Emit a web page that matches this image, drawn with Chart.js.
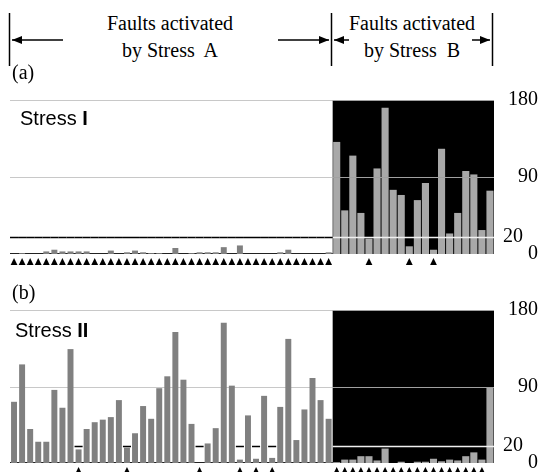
<!DOCTYPE html>
<html>
<head>
<meta charset="utf-8">
<script src="https://cdn.jsdelivr.net/npm/chart.js@4.4.1/dist/chart.umd.min.js"></script>
<style>
html, body { margin: 0; padding: 0; background: #fff; overflow: hidden; width: 538px; height: 472px; }
#page { position: relative; width: 538px; height: 472px; overflow: hidden; }
.serif { position: absolute; font-family: "Liberation Serif", "Times New Roman", serif; font-size: 20px; line-height: 1; color: #000; white-space: nowrap; z-index: 2; }
.sans { position: absolute; font-family: "Liberation Sans", Arial, sans-serif; font-size: 20px; line-height: 1; color: #000; white-space: nowrap; z-index: 2; }
canvas { position: absolute; left: 0; z-index: 1; }
svg { position: absolute; left: 0; top: 0; z-index: 2; }
</style>
</head>
<body>
<div id="page">
  <svg width="538" height="80">
    <defs>
      <marker id="head" viewBox="0 0 10 8" refX="10" refY="4" markerWidth="10" markerHeight="8" markerUnits="userSpaceOnUse" orient="auto">
        <path d="M0,0 L10,4 L0,8 z" fill="#000"/>
      </marker>
    </defs>
    <g stroke="#000" stroke-width="1.5">
      <line x1="9.5" y1="13" x2="9.5" y2="66"/>
      <line x1="331.5" y1="13" x2="331.5" y2="66"/>
      <line x1="492.5" y1="13" x2="492.5" y2="66"/>
      <line x1="63" y1="40" x2="12" y2="40" marker-end="url(#head)"/>
      <line x1="278" y1="40" x2="329" y2="40" marker-end="url(#head)"/>
      <line x1="349" y1="40" x2="334" y2="40" marker-end="url(#head)"/>
      <line x1="472" y1="40" x2="490" y2="40" marker-end="url(#head)"/>
    </g>
  </svg>
  <div class="serif" style="left:70px;width:200px;text-align:center;top:13px;">Faults activated</div>
  <div class="serif" style="left:70px;width:200px;text-align:center;top:40px;">by Stress&nbsp; A</div>
  <div class="serif" style="left:342px;width:140px;text-align:center;top:13px;">Faults activated</div>
  <div class="serif" style="left:342px;width:140px;text-align:center;top:40px;">by Stress&nbsp; B</div>
  <div class="serif" style="left:12px;top:62px;">(a)</div>
  <div class="serif" style="left:12px;top:282px;">(b)</div>
  <div class="sans" style="left:20px;top:108px;">Stress <b>I</b></div>
  <div class="sans" style="left:15px;top:320px;">Stress <b>II</b></div>
  <canvas id="chartA" width="538" height="195" style="top:80px;"></canvas>
  <canvas id="chartB" width="538" height="200" style="top:290px;"></canvas>
</div>
<script>
// fault numbers (x categories); the first 40 are activated by Stress A, the last 20 by Stress B
const faultIds = [
    '1','2','3','4','5','6','7','8','9','10','11','12','13','14','15','16','17','18','19','20',
    '21','22','23','24','25','26','27','28','29','30','31','32','33','34','35','36','37','38','39','40',
    '41','42','43','44','45','46','47','48','49','50','51','52','53','54','55','56','57','58','59','60'
];
const splitAt = 40;
const threshold = 20;
const yTicks = [0, 20, 90, 180];

// (a) Stress I
const stressI = [
    0, 1, 0, 0, 3, 5, 3, 3, 3, 3,
    0, 0, 4, 0, 2, 4, 2, 1, 1, 0,
    7, 0, 1, 2, 2, 2, 8, 0, 10, 0,
    0, 0, 0, 2, 5, 0, 0, 0, 0, 2,
    131, 51, 115, 48, 18, 100, 171, 75, 69, 9,
    63, 83, 5, 123, 24, 48, 97, 93, 28, 74
];

// (b) Stress II
const stressII = [
    72, 116, 40, 25, 25, 86, 65, 134, 16, 40,
    48, 51, 54, 74, 18, 35, 67, 52, 88, 102,
    154, 98, 46, 0, 23, 41, 165, 91, 4, 56,
    5, 79, 6, 66, 146, 27, 63, 100, 74, 52,
    1, 4, 4, 8, 8, 3, 17, 0, 1.5, 0,
    1.5, 1.5, 5, 2, 4, 3, 8, 12.5, 4, 89
];

// background, reference lines and triangle markers
const faultsPlugin = {
    id: 'faults',
    beforeDatasetsDraw(chart) {
        const ctx = chart.ctx;
        const area = chart.chartArea;
        const xs = chart.scales.x;
        const ys = chart.scales.y;
        const step = xs.getPixelForValue(1) - xs.getPixelForValue(0);
        const edge = xs.getPixelForValue(splitAt) - step / 2;

        ctx.save();
        ctx.fillStyle = '#000';
        ctx.fillRect(edge, area.top, area.right - edge, area.bottom - area.top);

        ctx.lineWidth = 1;
        ctx.strokeStyle = '#c8c8c8';
        [180, 90].forEach(v => {
            const y = Math.round(ys.getPixelForValue(v)) + 0.5;
            ctx.beginPath();
            ctx.moveTo(area.left, y);
            ctx.lineTo(edge, y);
            ctx.stroke();
        });
        ctx.strokeStyle = '#222';
        const y0 = Math.round(ys.getPixelForValue(0)) - 0.5;
        ctx.beginPath();
        ctx.moveTo(area.left, y0);
        ctx.lineTo(edge, y0);
        ctx.stroke();
        ctx.restore();
    },
    afterDatasetsDraw(chart) {
        const ctx = chart.ctx;
        const area = chart.chartArea;
        const xs = chart.scales.x;
        const ys = chart.scales.y;
        const values = chart.data.datasets[0].source;
        const step = xs.getPixelForValue(1) - xs.getPixelForValue(0);
        const edge = xs.getPixelForValue(splitAt) - step / 2;
        const y20 = Math.round(ys.getPixelForValue(threshold)) + 0.5;

        ctx.save();
        // right region lines, over the bars
        ctx.lineWidth = 1;
        ctx.strokeStyle = '#a0a0a0';
        [180, 90].forEach(v => {
            const y = Math.round(ys.getPixelForValue(v)) + 0.5;
            ctx.beginPath();
            ctx.moveTo(edge, y);
            ctx.lineTo(area.right, y);
            ctx.stroke();
        });
        ctx.strokeStyle = '#f0f0f0';
        ctx.lineWidth = 1.5;
        ctx.beginPath();
        ctx.moveTo(edge, y20);
        ctx.lineTo(area.right, y20);
        ctx.stroke();

        // left region: black mark at 20 over faults below the threshold
        ctx.strokeStyle = '#000';
        ctx.lineWidth = 1.5;
        values.forEach((v, i) => {
            if (i >= splitAt || v >= threshold) return;
            const cx = xs.getPixelForValue(i);
            ctx.beginPath();
            ctx.moveTo(cx - step / 2, y20);
            ctx.lineTo(cx + step / 2, y20);
            ctx.stroke();
        });

        // triangles under faults below the threshold
        ctx.fillStyle = '#000';
        values.forEach((v, i) => {
            if (v >= threshold) return;
            const cx = xs.getPixelForValue(i);
            const top = area.bottom + 4;
            ctx.beginPath();
            ctx.moveTo(cx, top);
            ctx.lineTo(cx + 3.4, top + 7);
            ctx.lineTo(cx - 3.4, top + 7);
            ctx.closePath();
            ctx.fill();
        });
        ctx.restore();
    }
};

function makeChart(id, values) {
    const left = values.map((v, i) => i < splitAt ? v : null);
    const right = values.map((v, i) => i >= splitAt ? v : null);
    return new Chart(document.getElementById(id), {
        type: 'bar',
        data: {
            labels: faultIds,
            datasets: [
                {
                    data: left,
                    source: values,
                    backgroundColor: '#808080',
                    barPercentage: 0.74,
                    categoryPercentage: 1,
                    grouped: false
                },
                {
                    data: right,
                    backgroundColor: '#a8a8a8',
                    barPercentage: 0.88,
                    categoryPercentage: 1,
                    grouped: false
                }
            ]
        },
        options: {
            responsive: false,
            animation: false,
            layout: { padding: { left: 10, right: 0, top: 20, bottom: id === 'chartA' ? 21 : 27 } },
            plugins: { legend: { display: false }, tooltip: { enabled: false } },
            scales: {
                x: { display: false },
                y: {
                    position: 'right',
                    min: 0,
                    max: 180,
                    afterBuildTicks: axis => { axis.ticks = yTicks.map(v => ({ value: v })); },
                    afterFit: axis => { axis.width = 44; },
                    grid: { display: false, drawTicks: false },
                    border: { display: false },
                    ticks: {
                        autoSkip: false,
                        crossAlign: 'far',
                        padding: 0,
                        color: '#000',
                        font: { family: '"Liberation Serif", "Times New Roman", serif', size: 20 },
                        callback: v => v === threshold ? '20   ' : String(v)
                    }
                }
            }
        },
        plugins: [faultsPlugin]
    });
}

makeChart('chartA', stressI);
makeChart('chartB', stressII);
</script>
</body>
</html>
